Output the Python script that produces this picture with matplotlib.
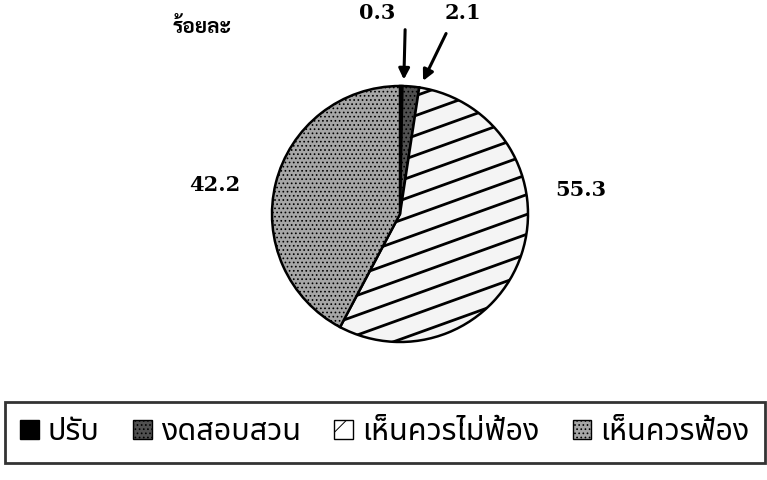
import numpy as np
import matplotlib
matplotlib.use('Agg')
import matplotlib.pyplot as plt
from matplotlib.patches import Patch

# data
labels = ['ปรับ', 'งดสอบสวน', 'เห็นควรไม่ฟ้อง', 'เห็นควรฟ้อง']
values = [0.3, 2.1, 55.3, 42.2]
value_text = ['0.3', '2.1', '55.3', '42.2']

plt.rcParams['hatch.linewidth'] = 0.7
thai_loopless = ['Noto Sans Thai', 'DejaVu Sans']
thai_looped = ['Sarabun', 'DejaVu Sans']
num_font = ['DejaVu Serif']

fig = plt.figure(figsize=(7.67, 4.8), dpi=100)
ax = fig.add_axes([272 / 767, (480 - 342) / 480, 256 / 767, 256 / 480])

faces = ['black', '#505050', '#f4f4f4', '#a6a6a6']
hatches = [None, '....', None, '....']
wedges, _ = ax.pie(values, startangle=90, counterclock=False, colors=faces,
                   wedgeprops=dict(edgecolor='black', linewidth=1.8))
for w, h in zip(wedges, hatches):
    if h:
        w.set_hatch(h)

# shallow diagonal hatch lines in the big wedge
xs = np.array([-1.2, 1.2])
for c in np.arange(-1.6, 1.6, 0.155):
    ln, = ax.plot(xs, 0.36 * xs + c, color='black', lw=2)
    ln.set_clip_path(wedges[2])

ax.set_xlim(-1, 1)
ax.set_ylim(-1, 1)
ax.set_aspect('equal')
ax.axis('off')

arrow = dict(arrowstyle='-|>', lw=2.2, color='black', mutation_scale=16,
             shrinkA=0, shrinkB=0)
ax.text(-0.18, 1.57, value_text[0], ha='center', va='center', fontsize=15,
        fontweight='bold', family=num_font, clip_on=False)
ax.annotate('', xy=(0.03, 1.05), xytext=(0.04, 1.44), arrowprops=arrow,
            annotation_clip=False)
ax.text(0.49, 1.57, value_text[1], ha='center', va='center', fontsize=15,
        fontweight='bold', family=num_font, clip_on=False)
ax.annotate('', xy=(0.18, 1.04), xytext=(0.36, 1.41), arrowprops=arrow,
            annotation_clip=False)
ax.text(1.41, 0.19, value_text[2], ha='center', va='center', fontsize=15,
        fontweight='bold', family=num_font)
ax.text(-1.45, 0.23, value_text[3], ha='center', va='center', fontsize=15,
        fontweight='bold', family=num_font)

ax.text(-1.55, 1.46, 'ร้อยละ', ha='center', va='center', fontsize=15,
        fontweight='bold', family=thai_looped)

# legend
handles = [
    Patch(facecolor='black', edgecolor='black'),
    Patch(facecolor='#505050', edgecolor='black', hatch='....'),
    Patch(facecolor='white', edgecolor='black', hatch='/'),
    Patch(facecolor='#a6a6a6', edgecolor='black', hatch='....'),
]
leg = fig.legend(handles, labels, loc='center',
                 bbox_to_anchor=(5 / 767, 1 - 465 / 480, 760 / 767, 65 / 480),
                 mode='expand', ncol=4, frameon=True, fancybox=False, edgecolor='black',
                 handlelength=0.6, handleheight=0.6, handletextpad=0.3,
                 columnspacing=0.5, borderpad=0.5, borderaxespad=0,
                 prop={'family': thai_loopless, 'size': 22})
leg.get_frame().set_linewidth(2)

fig.savefig('out.png')
